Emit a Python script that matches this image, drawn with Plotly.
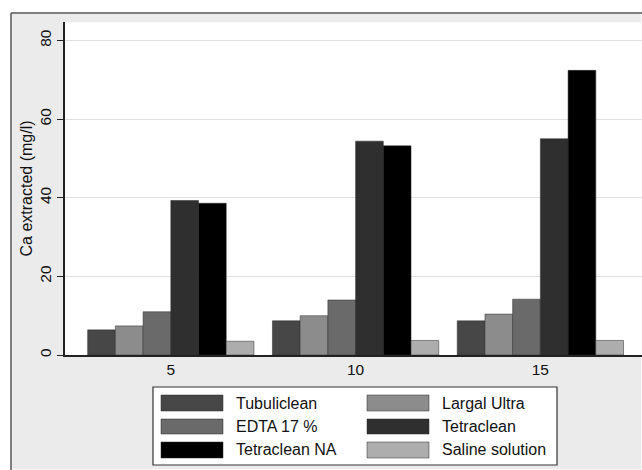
import plotly.graph_objects as go

# ---- data ----
times = [5, 10, 15]
series_names = ["Tubuliclean", "Largal Ultra", "EDTA 17 %", "Tetraclean", "Tetraclean NA", "Saline solution"]
tubuliclean = [6.4, 8.7, 8.7]
largal_ultra = [7.4, 10.0, 10.4]
edta_17 = [11.0, 14.0, 14.2]
tetraclean = [39.3, 54.4, 55.0]
tetraclean_na = [38.6, 53.2, 72.4]
saline = [3.5, 3.7, 3.7]
series_values = [tubuliclean, largal_ultra, edta_17, tetraclean, tetraclean_na, saline]
series_colors = ["#474747", "#8c8c8c", "#6a6a6a", "#2f2f2f", "#000000", "#adadad"]
y_ticks = [0, 20, 40, 60, 80]
x_ticks = [5, 10, 15]
y_title = "Ca extracted (mg/l)"

FONT = "Liberation Sans, Arial, sans-serif"
W, H = 642, 470
ML, MR, MT, MB = 65, 0, 22, 115
PW = W - ML - MR
PH = H - MT - MB
FRAME_BG = "#ebebeb"

def px_x(p):
    return (p - ML) / PW

def px_y(p):
    return (H - MB - p) / PH

fig = go.Figure()
for name, vals, col in zip(series_names, series_values, series_colors):
    fig.add_trace(go.Bar(
        x=times, y=vals, name=name,
        marker=dict(color=col, line=dict(color="#2a2a2a", width=0.5)),
        showlegend=False,
    ))

shapes = []
# grey outer frame, as strips around the plot area
frame_strips = [
    (12, W - 1, 14, MT),             # top strip
    (12, ML, MT, H - 1),             # left strip
    (ML, W - 1, H - MB, H - 1),      # bottom strip
]
for x0, x1, y0, y1 in frame_strips:
    shapes.append(dict(type="rect", xref="paper", yref="paper",
                       x0=px_x(x0), x1=px_x(x1), y0=px_y(y1), y1=px_y(y0),
                       fillcolor=FRAME_BG, line=dict(color=FRAME_BG, width=0.5),
                       layer="below"))
# outer frame lines
shapes.append(dict(type="line", xref="paper", yref="paper",
                   x0=px_x(11), x1=px_x(W + 20), y0=px_y(13), y1=px_y(13),
                   line=dict(color="#555555", width=1.5)))
shapes.append(dict(type="line", xref="paper", yref="paper",
                   x0=px_x(11), x1=px_x(11), y0=px_y(13), y1=px_y(H + 20),
                   line=dict(color="#555555", width=1.5)))
# legend box
shapes.append(dict(type="rect", xref="paper", yref="paper",
                   x0=px_x(153), x1=px_x(557), y0=px_y(387), y1=px_y(465),
                   fillcolor="white", line=dict(color="#333333", width=1.2)))

annotations = []
col_swatch_x = [161, 367]
col_text_x = [234, 440]
row_y = [(395, 411), (419, 434), (442, 458)]
for i, (name, col) in enumerate(zip(series_names, series_colors)):
    r, c = divmod(i, 2)
    y0, y1 = row_y[r]
    shapes.append(dict(type="rect", xref="paper", yref="paper",
                       x0=px_x(col_swatch_x[c]), x1=px_x(col_swatch_x[c] + 62),
                       y0=px_y(y0), y1=px_y(y1),
                       fillcolor=col, line=dict(color="#2a2a2a", width=0.5)))
    annotations.append(dict(xref="paper", yref="paper",
                            x=px_x(col_text_x[c]), y=px_y((y0 + y1) / 2),
                            text=name, showarrow=False, xanchor="left", yanchor="middle",
                            font=dict(size=16, color="#111111", family=FONT)))

fig.update_layout(
    width=W, height=H,
    margin=dict(l=ML, r=MR, t=MT, b=MB, pad=0),
    paper_bgcolor="white",
    plot_bgcolor="white",
    barmode="group", bargap=0.1, bargroupgap=0,
    font=dict(family=FONT, size=15, color="#111111"),
    shapes=shapes, annotations=annotations,
    showlegend=False,
)
fig.update_xaxes(
    range=[2.137, 17.75], tickvals=x_ticks, ticktext=[str(t) for t in x_ticks],
    showgrid=False, zeroline=False, showline=True, linecolor="#222222", linewidth=1.5,
    ticks="", tickfont=dict(size=15.5), fixedrange=True,
)
fig.update_yaxes(
    range=[0, 84.7], tickvals=y_ticks, tickangle=-90,
    showgrid=True, gridcolor="#e0e0e0", gridwidth=1, zeroline=False,
    showline=True, linecolor="#222222", linewidth=1.5,
    ticks="outside", ticklen=6, tickcolor="#222222", tickfont=dict(size=15.5),
    title=dict(text=y_title, font=dict(size=16), standoff=0), fixedrange=True,
)

fig.write_html("out.html", config={"displayModeBar": False},
               post_script="document.body.style.margin='0';document.body.style.padding='0';")
